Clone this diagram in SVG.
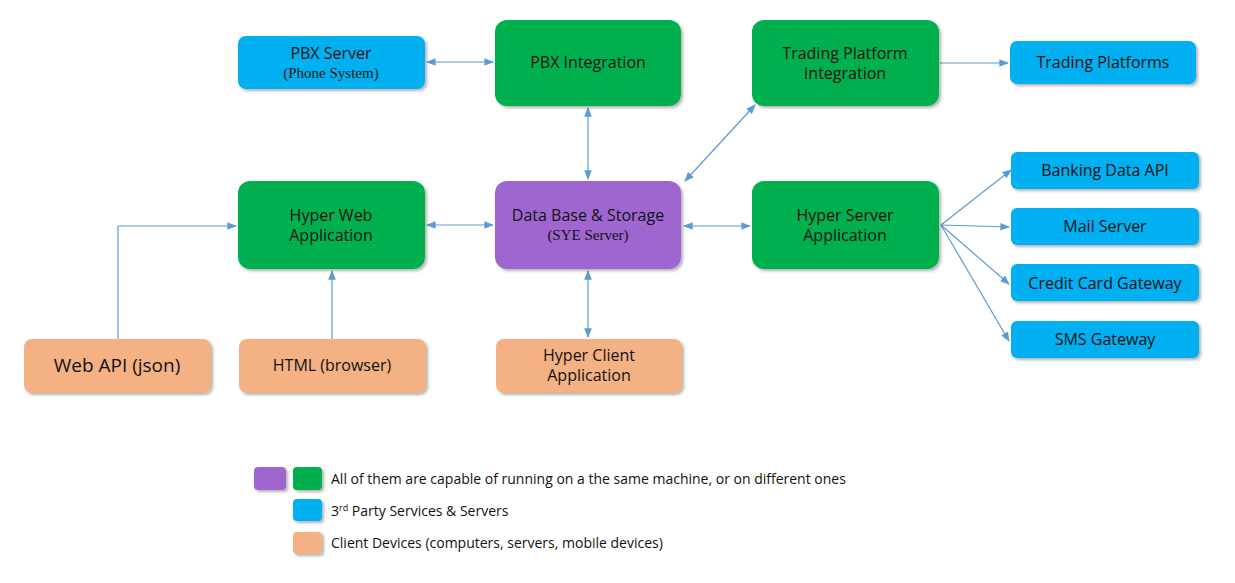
<svg xmlns="http://www.w3.org/2000/svg" width="1235" height="583" viewBox="0 0 1235 583">
<style>
text{font-family:"Open Sans","Liberation Sans",sans-serif;font-size:16px;fill:#111;text-anchor:middle}
.s{font-family:"Liberation Serif",serif;font-size:15px}
.l{font-size:14px;text-anchor:start}
.g{fill:#00b050}.b{fill:#00b0f0}.p{fill:#a066d0}.o{fill:#f4b183}
rect{filter:url(#sh)}
#conn path{fill:none;stroke:#5b9bd5;stroke-width:1.2}
</style>
<defs>
<filter id="sh" x="-10%" y="-10%" width="130%" height="140%"><feDropShadow dx="2" dy="2" stdDeviation="1.5" flood-color="#000" flood-opacity="0.3"/></filter>
<marker id="a" viewBox="0 0 10 10" refX="9" refY="5" markerWidth="8" markerHeight="8" orient="auto-start-reverse"><path d="M0,1 L10,5 L0,9 z" fill="#5b9bd5"/></marker>
</defs>
<g id="conn">
<path d="M427,62 H493" marker-start="url(#a)" marker-end="url(#a)"/>
<path d="M588,108 V179" marker-start="url(#a)" marker-end="url(#a)"/>
<path d="M685,181 L755,105" marker-start="url(#a)" marker-end="url(#a)"/>
<path d="M940,63 H1008" marker-end="url(#a)"/>
<path d="M427,225 H493" marker-start="url(#a)" marker-end="url(#a)"/>
<path d="M684,226 H750" marker-start="url(#a)" marker-end="url(#a)"/>
<path d="M941,225 L1011,170" marker-end="url(#a)"/>
<path d="M941,225 L1009,227" marker-end="url(#a)"/>
<path d="M941,225 L1009,284" marker-end="url(#a)"/>
<path d="M941,225 L1009,341" marker-end="url(#a)"/>
<path d="M118,339 V226 H236" marker-end="url(#a)"/>
<path d="M332,339 V271" marker-end="url(#a)"/>
<path d="M588,271 V337" marker-start="url(#a)" marker-end="url(#a)"/>
</g>
<g id="pbxserver"><rect class="b" x="238" y="36" width="187" height="53" rx="8"/><text x="331" y="59">PBX Server</text><text class="s" x="331" y="78">(Phone System)</text></g>
<g id="pbxint"><rect class="g" x="495" y="20" width="186" height="86" rx="12"/><text x="588" y="68">PBX Integration</text></g>
<g id="tpi"><rect class="g" x="752" y="20" width="187" height="86" rx="12"/><text x="845" y="59">Trading Platform</text><text x="845" y="79">Integration</text></g>
<g id="tp"><rect class="b" x="1010" y="41" width="186" height="43" rx="7"/><text x="1103" y="68">Trading Platforms</text></g>
<g id="hwa"><rect class="g" x="238" y="181" width="187" height="88" rx="12"/><text x="331" y="221">Hyper Web</text><text x="331" y="241">Application</text></g>
<g id="db"><rect class="p" x="495" y="181" width="186" height="88" rx="12"/><text x="588" y="221">Data Base &amp; Storage</text><text class="s" x="588" y="240">(SYE Server)</text></g>
<g id="hsa"><rect class="g" x="752" y="181" width="187" height="88" rx="12"/><text x="845" y="221">Hyper Server</text><text x="845" y="241">Application</text></g>
<g id="bank"><rect class="b" x="1011" y="152" width="188" height="37" rx="6"/><text x="1105" y="176">Banking Data API</text></g>
<g id="mail"><rect class="b" x="1011" y="208" width="188" height="37" rx="6"/><text x="1105" y="232">Mail Server</text></g>
<g id="cc"><rect class="b" x="1011" y="264" width="188" height="37" rx="6"/><text x="1105" y="289">Credit Card Gateway</text></g>
<g id="sms"><rect class="b" x="1011" y="321" width="188" height="37" rx="6"/><text x="1105" y="345">SMS Gateway</text></g>
<g id="webapi"><rect class="o" x="24" y="339" width="187" height="54" rx="8"/><text x="117" y="372" style="font-size:19px">Web API (json)</text></g>
<g id="html"><rect class="o" x="239" y="339" width="187" height="54" rx="8"/><text x="332" y="371">HTML (browser)</text></g>
<g id="hca"><rect class="o" x="496" y="339" width="186" height="54" rx="8"/><text x="589" y="361">Hyper Client</text><text x="589" y="381">Application</text></g>
<g id="legend">
<rect class="p" x="254" y="467" width="32" height="23" rx="4"/>
<rect class="g" x="293" y="467" width="29" height="23" rx="4"/>
<text class="l" x="331" y="484">All of them are capable of running on a the same machine, or on different ones</text>
<rect class="b" x="293" y="499" width="29" height="22" rx="4"/>
<text class="l" x="331" y="516">3<tspan dy="-5" style="font-size:9px">rd</tspan><tspan dy="5"> Party Services &amp; Servers</tspan></text>
<rect class="o" x="293" y="532" width="29" height="22" rx="4"/>
<text class="l" x="331" y="548">Client Devices (computers, servers, mobile devices)</text>
</g>
</svg>
